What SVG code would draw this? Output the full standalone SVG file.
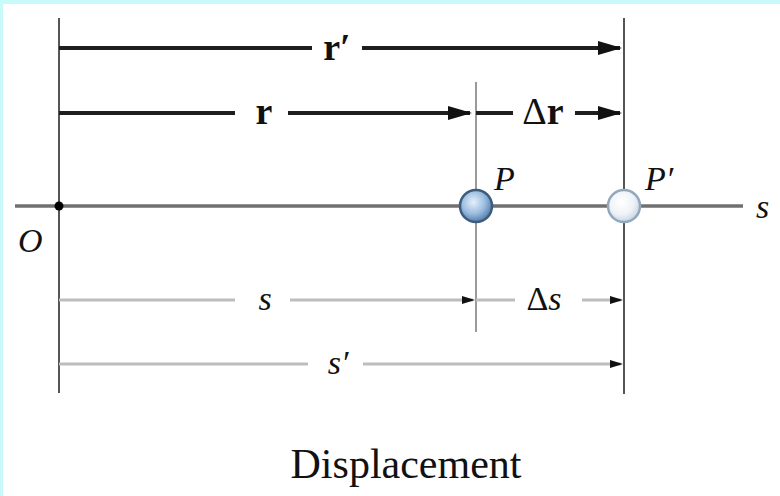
<svg xmlns="http://www.w3.org/2000/svg" width="780" height="496" viewBox="0 0 780 496">
<style>
.it{font-family:"Liberation Serif","Times New Roman",serif;font-style:italic;fill:#111}
.bd{font-family:"Liberation Serif","Times New Roman",serif;font-weight:bold;fill:#111}
.rm{font-family:"Liberation Serif","Times New Roman",serif;fill:#111}
.rv{stroke:#1e1e1e;stroke-width:4;fill:none}
.sv{stroke:#bdbdbd;stroke-width:3;fill:none}
.ext{stroke:#555;stroke-width:2;fill:none}
.extl{stroke:#9a9a9a;stroke-width:2;fill:none}
.axis{stroke:#707070;stroke-width:3.5;fill:none}
</style>
<defs>
<marker id="big" markerUnits="userSpaceOnUse" markerWidth="26" markerHeight="16" refX="22" refY="7" orient="auto">
<path d="M0,0 L24,7 L0,14 Z" fill="#111"/>
</marker>
<marker id="small" markerUnits="userSpaceOnUse" markerWidth="14" markerHeight="10" refX="11" refY="4" orient="auto">
<path d="M0,0 L13,4 L0,8 Z" fill="#111"/>
</marker>
<radialGradient id="gP" cx="0.42" cy="0.38" r="0.65">
<stop offset="0" stop-color="#e6f0fa"/>
<stop offset="0.55" stop-color="#9bbde0"/>
<stop offset="1" stop-color="#4f79a6"/>
</radialGradient>
<radialGradient id="gQ" cx="0.42" cy="0.38" r="0.65">
<stop offset="0" stop-color="#ffffff"/>
<stop offset="0.6" stop-color="#eef3f8"/>
<stop offset="1" stop-color="#c3d2e0"/>
</radialGradient>
</defs>
<rect x="0" y="0" width="780" height="496" fill="#ffffff"/>
<rect x="0" y="0" width="780" height="4" fill="#c8fafa"/>
<rect x="0" y="0" width="3" height="496" fill="#c8fafa"/>

<g id="connectors">
<line class="ext" x1="59" y1="18" x2="59" y2="393"/>
<line class="ext" x1="624" y1="18" x2="624" y2="394"/>
<line class="extl" x1="476" y1="82" x2="476" y2="332"/>
<line class="axis" x1="15" y1="206" x2="743" y2="206"/>
<line class="rv" x1="59" y1="48" x2="312" y2="48"/>
<line class="rv" x1="362" y1="48" x2="620" y2="48" marker-end="url(#big)"/>
<line class="rv" x1="59" y1="113" x2="235" y2="113"/>
<line class="rv" x1="288" y1="113" x2="470" y2="113" marker-end="url(#big)"/>
<line class="rv" x1="476" y1="113" x2="513" y2="113"/>
<line class="rv" x1="575" y1="113" x2="620" y2="113" marker-end="url(#big)"/>
<line class="sv" x1="59" y1="300" x2="235" y2="300"/>
<line class="sv" x1="290" y1="300" x2="473" y2="300" marker-end="url(#small)"/>
<line class="sv" x1="476" y1="300" x2="515" y2="300"/>
<line class="sv" x1="582" y1="300" x2="621" y2="300" marker-end="url(#small)"/>
<line class="sv" x1="59" y1="364" x2="308" y2="364"/>
<line class="sv" x1="363" y1="364" x2="621" y2="364" marker-end="url(#small)"/>
</g>

<g id="O">
<circle cx="59" cy="206" r="4.5" fill="#000"/>
<text class="it" x="18" y="252" font-size="34">O</text>
</g>
<g id="P">
<circle cx="476" cy="206" r="16" fill="url(#gP)" stroke="#3e5c7c" stroke-width="2.5"/>
<text class="it" x="494" y="190" font-size="34">P</text>
</g>
<g id="Pprime">
<circle cx="624" cy="206" r="16" fill="url(#gQ)" stroke="#93a8bc" stroke-width="2.5"/>
<text class="it" x="645" y="190" font-size="34">P′</text>
</g>
<g id="labels">
<text class="it" x="756" y="218" font-size="34">s</text>
<text class="bd" x="337" y="60" font-size="38" text-anchor="middle">r′</text>
<text class="bd" x="264" y="124" font-size="38" text-anchor="middle">r</text>
<text class="bd" x="543" y="124" font-size="38" text-anchor="middle"><tspan font-weight="normal">Δ</tspan>r</text>
<text class="it" x="265" y="310" font-size="34" text-anchor="middle">s</text>
<text class="it" x="544" y="310" font-size="34" text-anchor="middle"><tspan font-style="normal">Δ</tspan>s</text>
<text class="it" x="338" y="374" font-size="34" text-anchor="middle">s′</text>
<text class="rm" x="406" y="478" font-size="42" text-anchor="middle">Displacement</text>
</g>
</svg>
